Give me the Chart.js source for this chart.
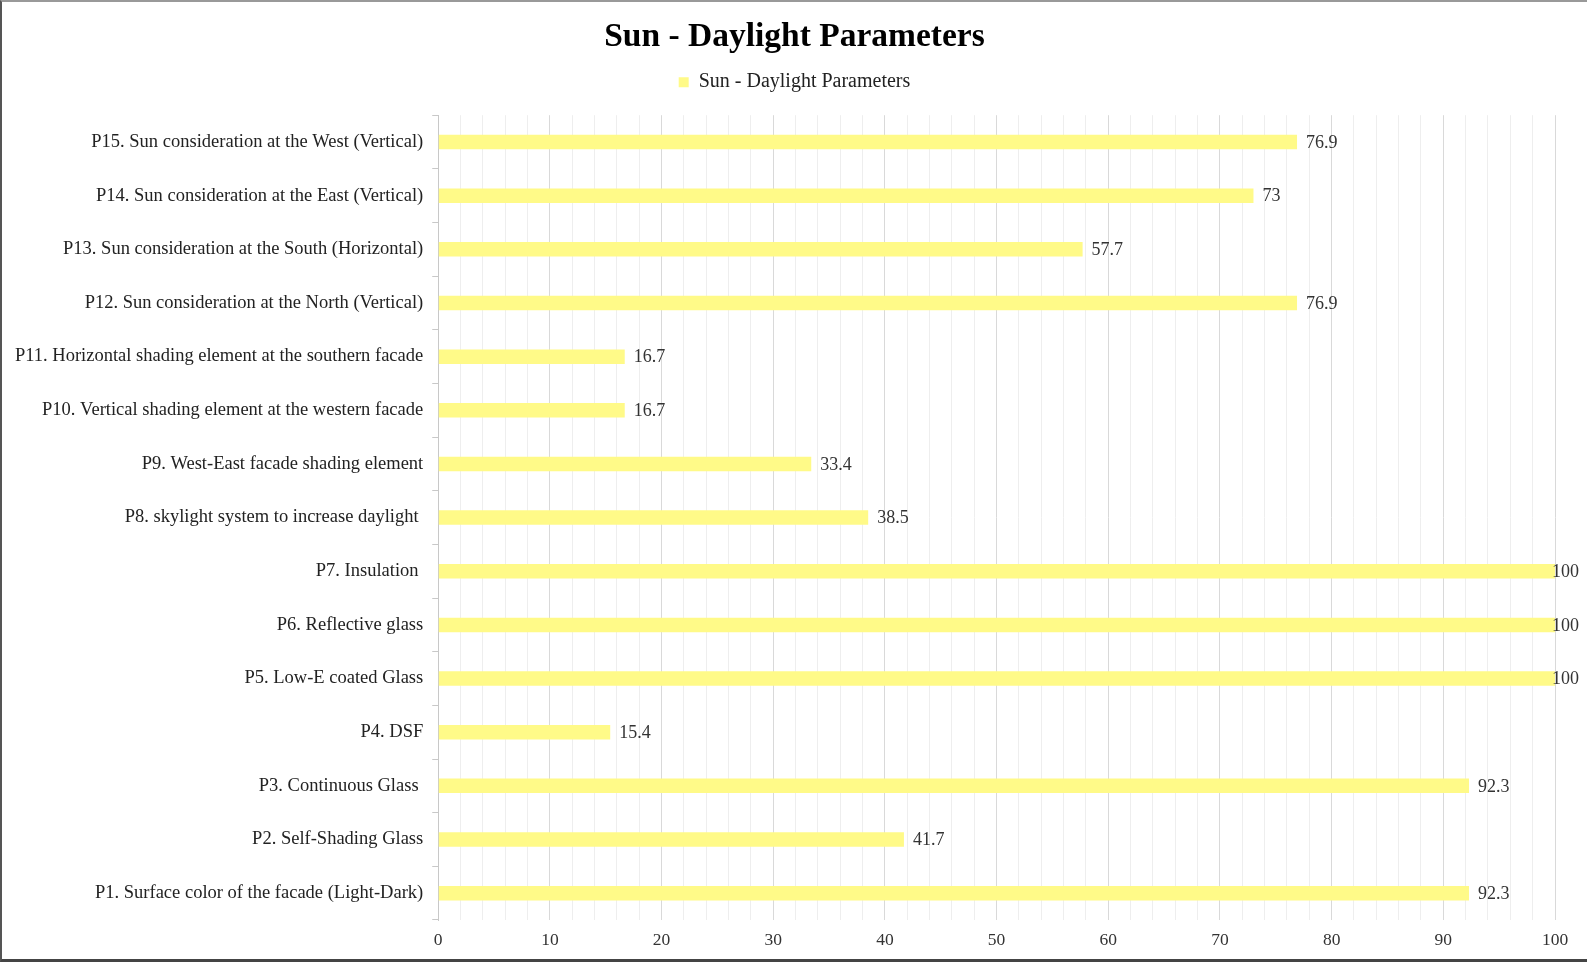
<!DOCTYPE html>
<html>
<head>
<meta charset="utf-8">
<title>Sun - Daylight Parameters</title>
<script src="https://cdn.jsdelivr.net/npm/chart.js@4"></script>
<style>
  html, body { margin: 0; padding: 0; background: #fff; }
  #wrap {
    width: 1587px;
    height: 962px;
    box-sizing: border-box;
    border-left: 2px solid #555;
    border-top: 2px solid #999;
    border-bottom: 3px solid #444;
    position: relative;
  }
</style>
</head>
<body>
<div id="wrap"><canvas id="chart"></canvas></div>
<script>
const categories = [
  "P1. Surface color of the facade (Light-Dark)",
  "P2. Self-Shading Glass",
  "P3. Continuous Glass ",
  "P4. DSF",
  "P5. Low-E coated Glass",
  "P6. Reflective glass",
  "P7. Insulation ",
  "P8. skylight system to increase daylight ",
  "P9. West-East facade shading element",
  "P10. Vertical shading element at the western facade",
  "P11. Horizontal shading element at the southern facade",
  "P12. Sun consideration at the North (Vertical)",
  "P13. Sun consideration at the South (Horizontal)",
  "P14. Sun consideration at the East (Vertical)",
  "P15. Sun consideration at the West (Vertical)"
];
const values = [92.3, 41.7, 92.3, 15.4, 100, 100, 100, 38.5, 33.4, 16.7, 16.7, 76.9, 57.7, 73, 76.9];
const seriesName = "Sun - Daylight Parameters";

const serif = '"Liberation Serif", "Times New Roman", serif';

// draws the number just past the end of each bar
const valueLabels = {
  id: "valueLabels",
  afterDatasetsDraw(chart) {
    const ctx = chart.ctx;
    const meta = chart.getDatasetMeta(0);
    ctx.save();
    ctx.font = "18px " + serif;
    ctx.fillStyle = "#333";
    ctx.textAlign = "left";
    ctx.textBaseline = "middle";
    meta.data.forEach((bar, i) => {
      const txt = String(values[i]);
      const w = ctx.measureText(txt).width;
      let x = bar.x + 9;
      if (x + w > chart.width - 8) x = chart.width - 8 - w;
      ctx.fillText(txt, x, bar.y + 1);
    });
    ctx.restore();
  }
};

// extra room under the legend, and title/legend centred on the whole canvas
const headerFix = {
  id: "headerFix",
  beforeInit(chart) {
    const fit = chart.legend.fit;
    chart.legend.fit = function () {
      fit.call(this);
      this.height += 13;
    };
  },
  afterLayout(chart) {
    [chart.titleBlock, chart.legend].forEach((box) => {
      if (!box) return;
      box.left = 0;
      box.right = chart.width;
      box.width = chart.width;
    });
  }
};

new Chart(document.getElementById("chart"), {
  type: "bar",
  data: {
    labels: categories,
    datasets: [{
      label: seriesName,
      data: values,
      backgroundColor: "#fffa88",
      borderWidth: 0,
      categoryPercentage: 1,
      barPercentage: 0.27
    }]
  },
  options: {
    indexAxis: "y",
    responsive: true,
    maintainAspectRatio: false,
    animation: false,
    layout: { padding: { left: 4, right: 32, top: 0, bottom: -2 } },
    plugins: {
      title: {
        display: true,
        text: "Sun - Daylight Parameters",
        color: "#000",
        font: { family: serif, size: 33.5, weight: "bold" },
        padding: { top: 15, bottom: 3 }
      },
      legend: {
        display: true,
        position: "top",
        labels: {
          color: "#222",
          font: { family: serif, size: 20 },
          boxWidth: 10,
          boxHeight: 10,
          padding: 12
        }
      },
      tooltip: { enabled: false }
    },
    scales: {
      x: {
        min: 0,
        max: 100,
        ticks: {
          stepSize: 2,
          autoSkip: false,
          maxRotation: 0,
          color: "#333",
          font: { family: serif, size: 17.5 },
          padding: 10,
          callback: (v) => (v % 10 === 0 ? v : "")
        },
        grid: {
          drawTicks: false,
          color: (c) => (c.tick && c.tick.value % 10 === 0 ? "#d9d9d9" : "#eeeeee"),
          lineWidth: 1
        },
        border: { display: false }
      },
      y: {
        reverse: true,
        ticks: {
          color: "#222",
          font: { family: serif, size: 18.5 },
          padding: 9
        },
        grid: {
          offset: true,
          drawOnChartArea: false,
          drawTicks: true,
          tickLength: 6,
          color: "#c8c8c8"
        },
        border: { display: true, color: "#c8c8c8" }
      }
    }
  },
  plugins: [valueLabels, headerFix]
});
</script>
</body>
</html>
